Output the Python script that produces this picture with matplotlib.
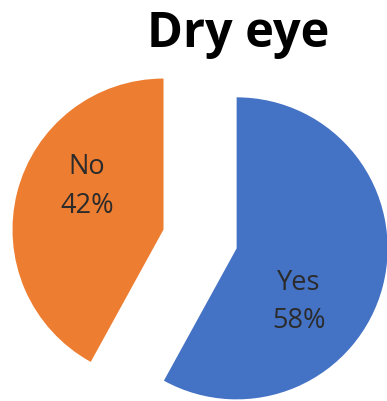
import matplotlib
matplotlib.use("Agg")
import matplotlib.pyplot as plt
import numpy as np

labels = ["Yes", "No"]
values = [58, 42]
colors = ["#4472C4", "#ED7D31"]
explode = [0.25, 0.25]

fig = plt.figure(figsize=(3.87, 4.02), dpi=100)
ax = fig.add_axes([0, 0, 1, 1])

wedges, _ = ax.pie(values, colors=colors, explode=explode, startangle=90,
                   counterclock=False, wedgeprops=dict(linewidth=0))

# label offsets from each wedge centre (radius, angle in deg)
offsets = [(0.54, -40), (0.585, 150)]
for w, lab, v, (r, a) in zip(wedges, labels, values, offsets):
    cx, cy = w.center
    x = cx + r * np.cos(np.radians(a))
    y = cy + r * np.sin(np.radians(a))
    ax.text(x, y, f"{lab}\n{v}%", ha="center", va="center", fontsize=19.5,
            color="#2b2b2b", family="Open Sans", linespacing=1.5)

ax.set_aspect("auto")
ax.set_xlim(-1.325, 1.238)
ax.set_ylim(-1.073, 1.589)
ax.axis("off")

fig.text(0.615, 0.975, "Dry eye", ha="center", va="top", fontsize=35,
         fontweight="bold", family="Open Sans")

fig.savefig("out.png", dpi=100)
